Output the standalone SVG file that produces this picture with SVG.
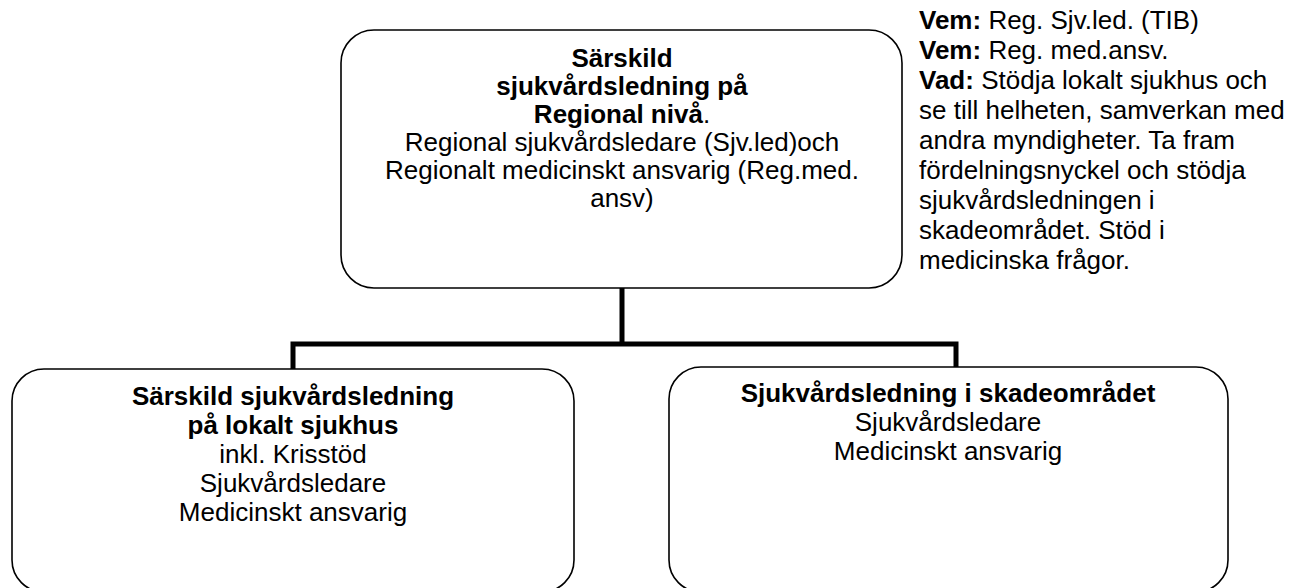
<svg xmlns="http://www.w3.org/2000/svg" width="1289" height="588" viewBox="0 0 1289 588">
<style>
.box{fill:#fff;stroke:#000;stroke-width:1.6}
.conn{fill:none;stroke:#000;stroke-width:5}
text{font-family:"Liberation Sans",Arial,sans-serif;font-size:26px;fill:#000}
.c{text-anchor:middle}
.b{font-weight:bold}
</style>
<rect width="1289" height="588" fill="#fff"/>
<g id="connectors">
<path class="conn" d="M622 288 V344 M293 344 H956 M293 341.5 V369 M956 341.5 V367"/>
</g>
<g id="node-regional">
<rect class="box" x="341" y="30" width="561" height="258" rx="33" ry="33"/>
<text class="c b" x="622" y="67">Särskild</text>
<text class="c b" x="622" y="95">sjukvårdsledning på</text>
<text class="c" x="622" y="123"><tspan class="b">Regional nivå</tspan>.</text>
<text class="c" x="622" y="151">Regional sjukvårdsledare (Sjv.led)och</text>
<text class="c" x="622" y="179">Regionalt medicinskt ansvarig (Reg.med.</text>
<text class="c" x="622" y="207">ansv)</text>
</g>
<g id="note">
<text x="919" y="29"><tspan class="b">Vem:</tspan> Reg. Sjv.led. (TIB)</text>
<text x="919" y="59"><tspan class="b">Vem:</tspan> Reg. med.ansv.</text>
<text x="919" y="89"><tspan class="b">Vad:</tspan>  Stödja lokalt sjukhus och</text>
<text x="919" y="119">se till helheten, samverkan med</text>
<text x="919" y="149">andra myndigheter. Ta fram</text>
<text x="919" y="179">fördelningsnyckel och stödja</text>
<text x="919" y="209">sjukvårdsledningen i</text>
<text x="919" y="239">skadeområdet. Stöd i</text>
<text x="919" y="269">medicinska frågor.</text>
</g>
<g id="node-lokalt">
<rect class="box" x="12" y="369" width="562" height="223" rx="32" ry="32"/>
<text class="c b" x="293" y="405">Särskild sjukvårdsledning</text>
<text class="c b" x="293" y="434">på lokalt sjukhus</text>
<text class="c" x="293" y="463">inkl. Krisstöd</text>
<text class="c" x="293" y="492">Sjukvårdsledare</text>
<text class="c" x="293" y="521">Medicinskt ansvarig</text>
</g>
<g id="node-skadeomrade">
<rect class="box" x="669" y="367" width="559" height="225" rx="32" ry="32"/>
<text class="c b" x="948" y="402">Sjukvårdsledning i skadeområdet</text>
<text class="c" x="948" y="431">Sjukvårdsledare</text>
<text class="c" x="948" y="460">Medicinskt ansvarig</text>
</g>
</svg>
